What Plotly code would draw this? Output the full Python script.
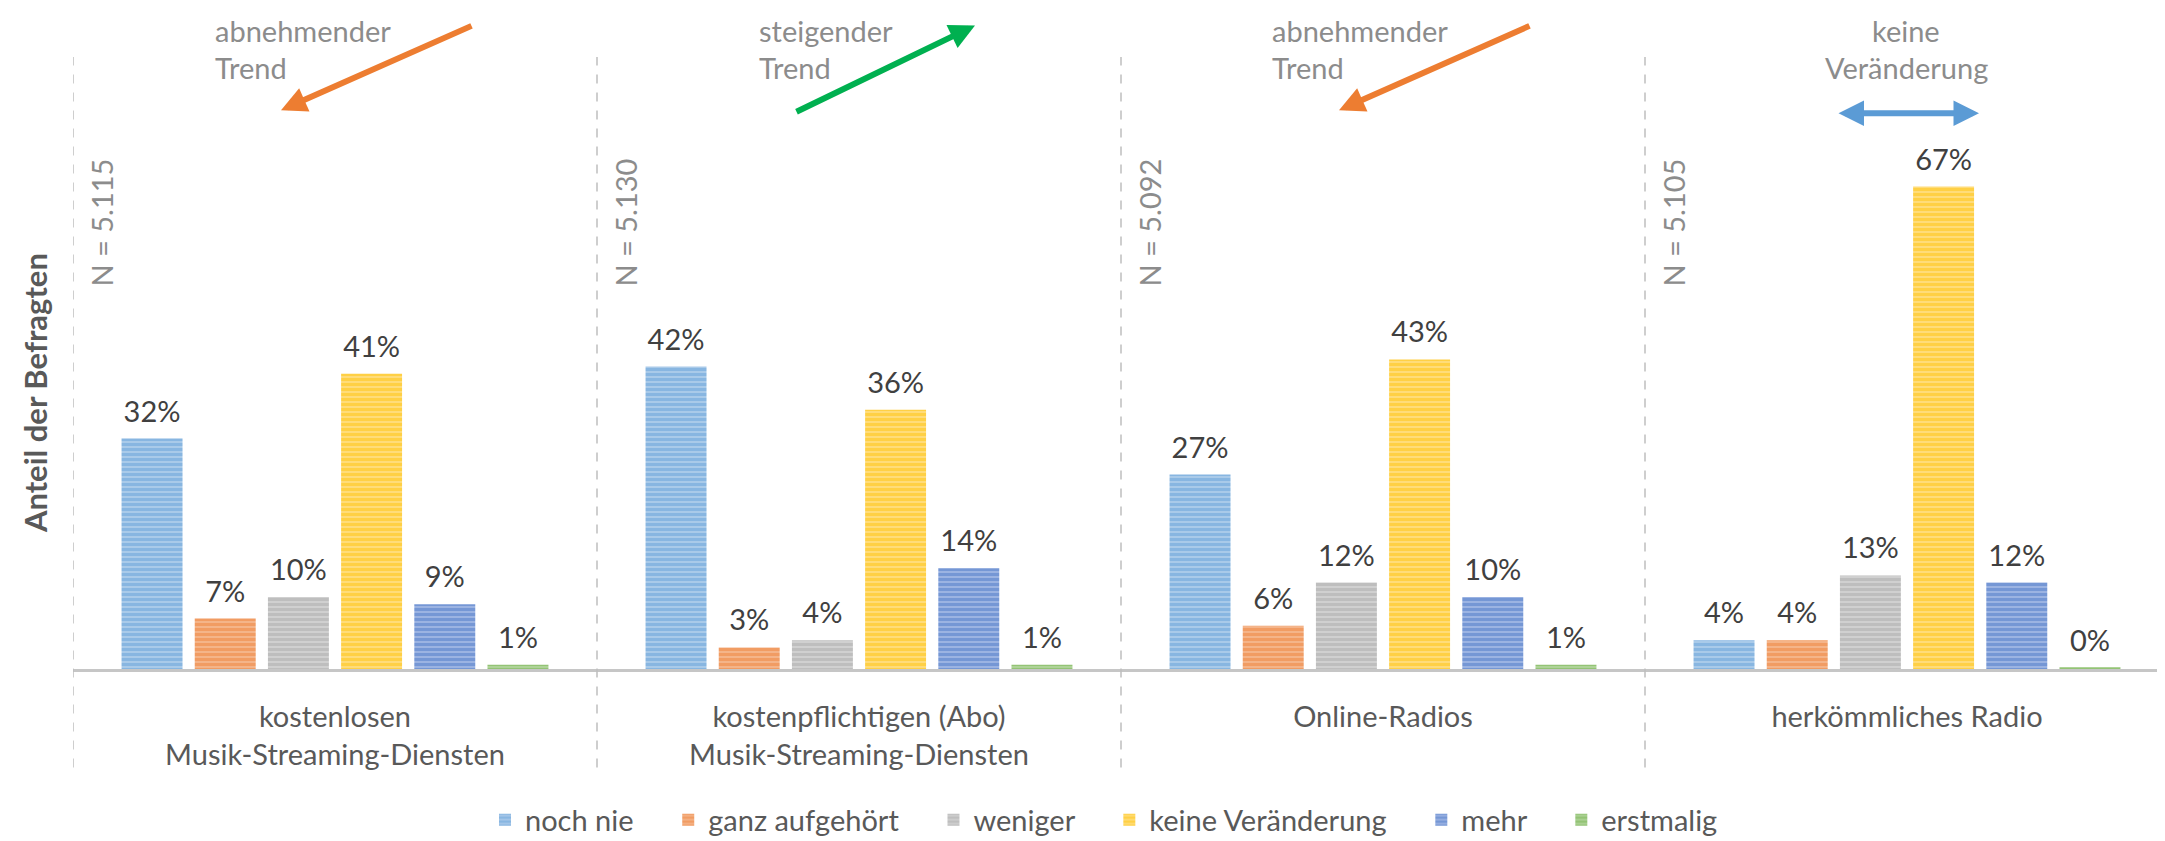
import plotly.graph_objects as go

# ---------------- data ----------------
categories = [
    "kostenlosen<br>Musik-Streaming-Diensten",
    "kostenpflichtigen (Abo)<br>Musik-Streaming-Diensten",
    "Online-Radios",
    "herkömmliches Radio",
]
series_names = ["noch nie", "ganz aufgehört", "weniger", "keine Veränderung", "mehr", "erstmalig"]
noch_nie = [0.32, 0.42, 0.27, 0.04]
ganz_aufgehoert = [0.07, 0.03, 0.06, 0.04]
weniger = [0.10, 0.04, 0.12, 0.13]
keine_veraenderung = [0.41, 0.36, 0.43, 0.67]
mehr = [0.09, 0.14, 0.10, 0.12]
erstmalig = [0.006, 0.006, 0.006, 0.002]
sample_sizes = ["N = 5.115", "N = 5.130", "N = 5.092", "N = 5.105"]
trend_line1 = ["abnehmender", "steigender", "abnehmender", "keine"]
trend_line2 = ["Trend", "Trend", "Trend", "Veränderung"]
y_title = "Anteil der Befragten"

series_values = [noch_nie, ganz_aufgehoert, weniger, keine_veraenderung, mehr, erstmalig]

# ---------------- style ----------------
FONT = "Lato, 'Open Sans', sans-serif"
FS = 29
main_colors = ["#5B9BD5", "#ED7D31", "#A5A5A5", "#FFC000", "#4472C4", "#70AD47"]
light_colors = ["#b4d0ec", "#f5bb95", "#d6d6d6", "#ffe08a", "#a7bce6", "#b7d8a2"]
W, H = 2165, 841
L, R, T, B = 65, 4, 49, 171
PW, PH = W - L - R, H - T - B
BARGAP = 0.162
LEGEND_PAD = "\u00a0" * 4


def px_x(px):
    return (px - L) / PW


def px_y(py):
    return (H - B - py) / PH


fig = go.Figure()

n_series = len(series_names)
for k, (name, vals, c, lc) in enumerate(zip(series_names, series_values, main_colors, light_colors)):
    label = name + (LEGEND_PAD if k < n_series - 1 else "")
    fig.add_trace(go.Bar(
        name=label, x=categories, y=vals,
        marker=dict(color=c, line=dict(width=0),
                    pattern=dict(shape="-", fgcolor=c, bgcolor=lc, size=5, solidity=0.7)),
        hoverinfo="skip",
    ))

for name, vals in zip(series_names, series_values):
    fig.add_trace(go.Scatter(
        x=categories, y=vals, mode="markers+text",
        text=[f"{round(v * 100):.0f}%" for v in vals],
        textposition="top center",
        textfont=dict(family=FONT, size=FS, color="#404040"),
        marker=dict(size=14, opacity=0),
        showlegend=False, hoverinfo="skip", cliponaxis=False,
    ))

shapes = []
for i in range(len(categories) + 1):
    shapes.append(dict(type="line", xref="x", yref="paper", x0=i - 0.5, x1=i - 0.5,
                       y0=px_y(770), y1=1.0,
                       line=dict(color="#bfbfbf", width=1.5, dash="dash")))

annotations = []
# y-axis title
annotations.append(dict(text=f"<b>{y_title}</b>", xref="paper", yref="paper",
                        x=px_x(27), y=px_y(390), textangle=-90, showarrow=False,
                        xanchor="center", yanchor="middle",
                        font=dict(family=FONT, size=31, color="#595959")))
# sample sizes
for i, n in enumerate(sample_sizes):
    annotations.append(dict(text=n, xref="paper", yref="paper",
                            x=px_x(94) + i / len(categories), y=px_y(217), textangle=-90,
                            showarrow=False, xanchor="center", yanchor="middle",
                            font=dict(family=FONT, size=FS, color="#8c8c8c")))
# trend labels (two lines each)
trend_pos = [(205, "left"), (749, "left"), (1262, "left"), (1898, "center")]
for (px, anchor), t1, t2 in zip(trend_pos, trend_line1, trend_line2):
    for txt, cy in ((t1, 22), (t2, 60)):
        annotations.append(dict(text=txt, xref="paper", yref="paper", x=px_x(px), y=px_y(cy),
                                showarrow=False, xanchor=anchor, yanchor="middle",
                                font=dict(family=FONT, size=FS, color="#8c8c8c")))
# trend arrows (tip, tail)
arrows = [((273, 103), (465, 18), "#ED7D31", "end"),
          ((967, 17), (787, 104), "#00B050", "end"),
          ((1331, 103), (1523, 18), "#ED7D31", "end"),
          ((1971, 106), (1829, 106), "#5B9BD5", "end+start")]
for (hx, hy), (tx, ty), col, side in arrows:
    annotations.append(dict(text="", xref="paper", yref="paper", x=px_x(hx), y=px_y(hy),
                            ax=tx - hx, ay=ty - hy, axref="pixel", ayref="pixel",
                            showarrow=True, arrowhead=2, arrowsize=0.85, arrowwidth=6,
                            arrowcolor=col, arrowside=side, standoff=0, startstandoff=0))

fig.update_layout(
    width=W, height=H,
    margin=dict(l=L, r=R, t=T, b=B),
    paper_bgcolor="white", plot_bgcolor="white",
    barmode="group", bargap=BARGAP, bargroupgap=0.167,
    scattermode="group", scattergap=BARGAP,
    font=dict(family=FONT, size=FS, color="#595959"),
    xaxis=dict(showgrid=False, zeroline=False, showline=True, linecolor="#c6c6c6", linewidth=3,
               ticks="outside", ticklen=20, tickcolor="rgba(0,0,0,0)",
               tickfont=dict(family=FONT, size=FS, color="#595959"),
               range=[-0.5, 3.5]),
    yaxis=dict(range=[0, 0.85], showgrid=False, zeroline=False, showticklabels=False,
               showline=False, ticks=""),
    legend=dict(orientation="h", x=px_x(1096), xanchor="center", y=px_y(823), yanchor="middle",
                font=dict(family=FONT, size=FS, color="#595959"), traceorder="normal"),
    shapes=shapes, annotations=annotations, showlegend=True,
)

fig.write_html("out.html")
